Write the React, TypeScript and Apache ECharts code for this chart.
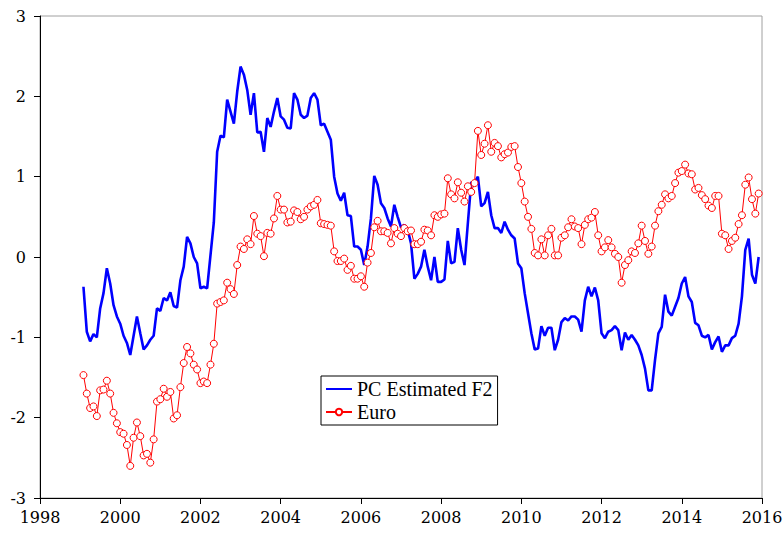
import React, { useEffect, useRef } from "react";
import * as echarts from "echarts";

const START_YEAR = 1999;
const xTicks = [1998, 2000, 2002, 2004, 2006, 2008, 2010, 2012, 2014, 2016];

const pcEstimatedF2 = [
  -0.37, -0.93, -1.05, -0.96, -1.00, -0.64, -0.45, -0.14, -0.33, -0.60, -0.74, -0.83, -0.98, -1.07, -1.22, -0.98, -0.74, -0.95, -1.15, -1.10, -1.03, -0.98, -0.64, -0.67, -0.51, -0.54,
  -0.44, -0.61, -0.63, -0.29, -0.12, 0.25, 0.17, 0.00, -0.08, -0.39, -0.37, -0.39, 0.02, 0.43, 1.31, 1.51, 1.49, 1.96, 1.81, 1.66, 2.06, 2.37, 2.27, 2.08, 1.77,
  2.04, 1.55, 1.56, 1.31, 1.73, 1.62, 1.81, 1.98, 1.75, 1.71, 1.61, 1.60, 2.04, 1.96, 1.77, 1.73, 1.76, 1.98, 2.04, 1.96, 1.64, 1.66, 1.56, 1.46, 1.00, 0.79,
  0.70, 0.80, 0.52, 0.51, 0.13, 0.13, 0.09, -0.10, 0.13, 0.48, 1.01, 0.90, 0.67, 0.61, 0.48, 0.38, 0.65, 0.50, 0.37, 0.40, 0.34, 0.17, -0.27, -0.21, -0.12,
  0.09, -0.12, -0.29, 0.00, -0.31, -0.31, -0.28, 0.20, -0.08, -0.06, 0.36, 0.09, -0.10, 0.42, 0.93, 0.93, 1.00, 0.63, 0.67, 0.81, 0.52, 0.36, 0.36, 0.30, 0.44,
  0.34, 0.27, 0.23, -0.08, -0.14, -0.45, -0.70, -0.95, -1.15, -1.14, -0.86, -0.98, -0.88, -0.88, -1.16, -1.03, -0.81, -0.76, -0.79, -0.74, -0.74, -0.78, -0.93, -0.54, -0.37, -0.49,
  -0.38, -0.54, -0.95, -1.01, -0.93, -0.91, -0.86, -0.91, -1.16, -0.94, -1.03, -0.97, -1.03, -1.10, -1.22, -1.39, -1.66, -1.66, -1.28, -0.95, -0.87, -0.47, -0.68, -0.73, -0.62,
  -0.51, -0.33, -0.25, -0.49, -0.56, -0.82, -0.85, -0.98, -1.00, -0.97, -1.15, -1.06, -0.99, -1.18, -1.10, -1.10, -1.01, -0.98, -0.83, -0.49, 0.09, 0.23, -0.22, -0.33, 0.00,
];

const euro = [
  -1.47, -1.70, -1.88, -1.86, -1.98, -1.66, -1.65, -1.54, -1.70, -1.94, -2.07, -2.18, -2.20, -2.34, -2.60, -2.25, -2.06, -2.23, -2.47, -2.45, -2.56, -2.27, -1.80, -1.77, -1.64, -1.74,
  -1.68, -2.01, -1.97, -1.62, -1.32, -1.12, -1.20, -1.34, -1.40, -1.57, -1.55, -1.57, -1.34, -1.08, -0.58, -0.56, -0.54, -0.32, -0.40, -0.46, -0.10, 0.13, 0.10, 0.22, 0.16,
  0.51, 0.29, 0.26, 0.01, 0.30, 0.29, 0.48, 0.76, 0.59, 0.59, 0.43, 0.44, 0.58, 0.56, 0.47, 0.50, 0.59, 0.63, 0.65, 0.71, 0.42, 0.41, 0.40, 0.39, 0.07, -0.05,
  -0.05, -0.02, -0.16, -0.11, -0.27, -0.27, -0.24, -0.37, -0.07, 0.05, 0.37, 0.45, 0.32, 0.32, 0.30, 0.17, 0.36, 0.29, 0.26, 0.36, 0.32, 0.33, 0.16, 0.16, 0.19,
  0.34, 0.33, 0.27, 0.52, 0.50, 0.53, 0.54, 0.98, 0.78, 0.73, 0.93, 0.80, 0.69, 0.88, 0.81, 0.92, 1.57, 1.27, 1.41, 1.64, 1.31, 1.42, 1.38, 1.24, 1.28,
  1.30, 1.37, 1.38, 1.12, 0.92, 0.69, 0.50, 0.35, 0.05, 0.02, 0.22, 0.02, 0.27, 0.35, 0.02, 0.02, 0.24, 0.27, 0.37, 0.47, 0.38, 0.36, 0.16, 0.40, 0.47, 0.49,
  0.56, 0.27, 0.07, 0.12, 0.21, 0.12, 0.04, 0.00, -0.32, -0.10, -0.04, 0.07, 0.05, 0.17, 0.39, 0.20, 0.04, 0.13, 0.39, 0.57, 0.65, 0.78, 0.73, 0.76, 0.92, 1.05,
  1.07, 1.15, 1.04, 1.03, 0.84, 0.86, 0.77, 0.72, 0.64, 0.61, 0.76, 0.76, 0.29, 0.27, 0.10, 0.20, 0.24, 0.41, 0.52, 0.90, 0.99, 0.72, 0.54, 0.79,
];

const toDated = (vals: number[]) =>
  vals.map((v, i) => [START_YEAR + (i + 1) / 12, v]);

const AXIS_FONT = "DejaVu Serif";
const LEGEND_FONT = "Liberation Serif";

export default function App() {
  const ref = useRef<HTMLDivElement>(null);
  useEffect(() => {
    if (!ref.current) return;
    const chart = echarts.init(ref.current, undefined, { renderer: "svg" });
    chart.setOption({
      animation: false,
      backgroundColor: "#ffffff",
      grid: {
        left: 40,
        right: 22,
        top: 16,
        bottom: 39,
        outerBoundsMode: "none",
        containLabel: false,
        show: true,
        borderColor: "#a0a0a0",
        borderWidth: 1,
        backgroundColor: "transparent",
      },
      xAxis: {
        type: "value",
        min: xTicks[0],
        max: xTicks[xTicks.length - 1],
        interval: 2,
        axisLine: { show: true, onZero: false, lineStyle: { color: "#000", width: 1 } },
        axisTick: { show: true, inside: false, length: 6, lineStyle: { color: "#000" } },
        axisLabel: {
          margin: 11,
          fontFamily: AXIS_FONT,
          fontSize: 16,
          color: "#000",
          formatter: (v: number) => String(v),
        },
        splitLine: { show: false },
      },
      yAxis: {
        type: "value",
        min: -3,
        max: 3,
        interval: 1,
        axisLine: { show: true, onZero: false, lineStyle: { color: "#000", width: 1 } },
        axisTick: { show: true, inside: false, length: 6, lineStyle: { color: "#000" } },
        axisLabel: {
          margin: 14,
          fontFamily: AXIS_FONT,
          fontSize: 16,
          color: "#000",
          formatter: (v: number) => String(v),
        },
        splitLine: { show: false },
      },
      legend: {
        orient: "vertical",
        left: 321,
        top: 376,
        padding: [3, 5, 3, 4],
        itemGap: 3,
        itemWidth: 26,
        itemHeight: 8,
        backgroundColor: "#fff",
        borderColor: "#000",
        borderWidth: 1,
        borderRadius: 0,
        textStyle: { fontFamily: LEGEND_FONT, fontSize: 20, color: "#000" },
        data: [
          {
            name: "PC Estimated F2",
            itemStyle: { color: "rgba(0,0,0,0)", borderWidth: 0, opacity: 0 },
          },
          { name: "Euro" },
        ],
      },
      series: [
        {
          name: "PC Estimated F2",
          type: "line",
          data: toDated(pcEstimatedF2),
          showSymbol: false,
          symbol: "none",
          lineStyle: { color: "#0000ff", width: 2.6 },
          itemStyle: { color: "#0000ff" },
          z: 3,
        },
        {
          name: "Euro",
          type: "line",
          data: toDated(euro),
          symbol: "circle",
          symbolSize: 7,
          showSymbol: true,
          lineStyle: { color: "#ff0000", width: 1 },
          itemStyle: { color: "#ffffff", borderColor: "#ff0000", borderWidth: 1 },
          z: 4,
        },
      ],
    });
    return () => chart.dispose();
  }, []);
  return (
    <div
      ref={ref}
      style={{ position: "fixed", left: 0, top: 0, width: 784, height: 537, background: "#fff" }}
    />
  );
}
